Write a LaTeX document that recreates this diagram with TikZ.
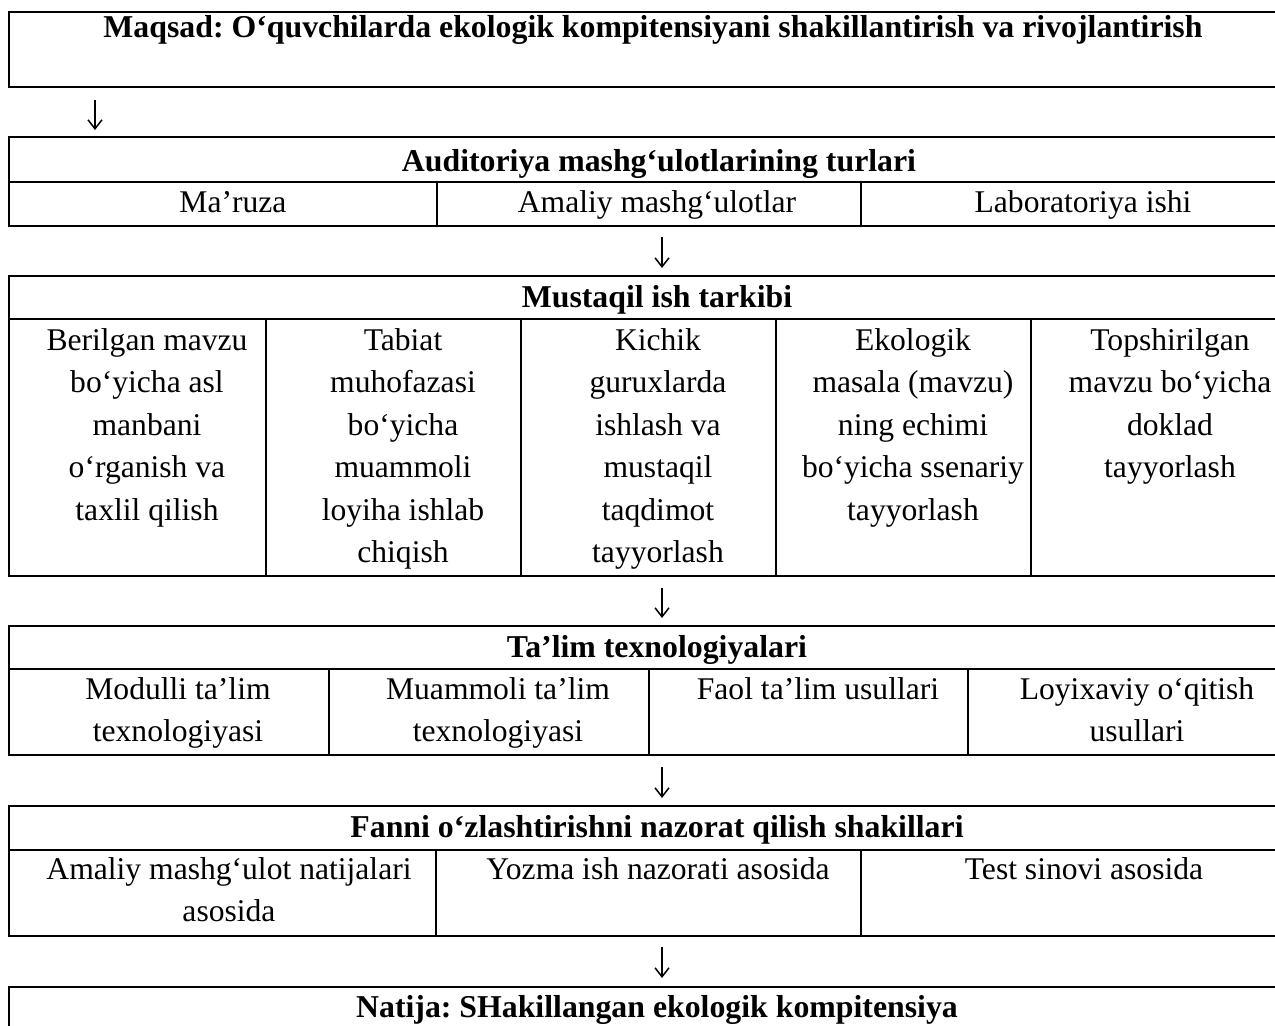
\documentclass[tikz,border=0pt]{standalone}
\usepackage{fontspec}
\setmainfont{Liberation Serif}
\frenchspacing
\usetikzlibrary{arrows.meta}
\newcommand{\cellstrut}{\rule{0pt}{15pt}}
\begin{document}
\begin{tikzpicture}[x=0.5pt,y=-0.5pt,
  frame/.style={draw,line width=1.1pt,inner sep=0pt,outer sep=0pt,minimum width=640.5pt},
  rule/.style={line width=1.1pt},
  head/.style={anchor=base,inner sep=0pt,font=\bfseries\fontsize{15.9}{21.2}\selectfont},
  cell/.style={anchor=north,inner sep=0pt,align=center,font=\fontsize{15.8}{21.2}\selectfont},
  flow/.style={line width=0.75pt,-{Straight Barb[length=4.5pt,width=7pt]}},
]
\useasboundingbox (0,0) rectangle (1275,1025);
% frames
\node[frame,minimum height=37.5pt] (goal) at (649.5,49.5) {};
\node[frame,minimum height=44.5pt] (aud) at (649.5,181.5) {};
\node[frame,minimum height=150pt] (must) at (649.5,426) {};
\node[frame,minimum height=64.5pt] (tal) at (649.5,690.5) {};
\node[frame,minimum height=65pt] (fan) at (649.5,871) {};
\node[frame,minimum height=29pt] (nat) at (649.5,1016) {};
% inner rules
\draw[rule] (9,182) -- (1290,182);
\draw[rule] (437,182) -- (437,226) (861,182) -- (861,226);
\draw[rule] (9,319) -- (1290,319);
\draw[rule] (266,319) -- (266,576) (521,319) -- (521,576) (776,319) -- (776,576) (1031,319) -- (1031,576);
\draw[rule] (9,669) -- (1290,669);
\draw[rule] (329,669) -- (329,755) (649,669) -- (649,755) (968,669) -- (968,755);
\draw[rule] (9,850) -- (1290,850);
\draw[rule] (436,850) -- (436,936) (861,850) -- (861,936);
% headers
\node[head] (goalt) at (653,37) {Maqsad: O‘quvchilarda ekologik kompitensiyani shakillantirish va rivojlantirish};
\node[head] (audt) at (659,171) {Auditoriya mashg‘ulotlarining turlari};
\node[head] (mustt) at (657,307) {Mustaqil ish tarkibi};
\node[head] (talt) at (657,657) {Ta’lim texnologiyalari};
\node[head] (fant) at (657,837) {Fanni o‘zlashtirishni nazorat qilish shakillari};
\node[head] (natt) at (657,1017) {Natija: SHakillangan ekologik kompitensiya};
% auditoriya cells
\node[cell] (a1) at (233,182) {\cellstrut Ma’ruza};
\node[cell] (a2) at (657,182) {\cellstrut Amaliy mashg‘ulotlar};
\node[cell] (a3) at (1083,182) {\cellstrut Laboratoriya ishi};
% mustaqil cells
\node[cell] (m1) at (147,320) {\cellstrut Berilgan mavzu\\bo‘yicha asl\\manbani\\o‘rganish va\\taxlil qilish};
\node[cell] (m2) at (403,320) {\cellstrut Tabiat\\muhofazasi\\bo‘yicha\\muammoli\\loyiha ishlab\\chiqish};
\node[cell] (m3) at (658,320) {\cellstrut Kichik\\guruxlarda\\ishlash va\\mustaqil\\taqdimot\\tayyorlash};
\node[cell] (m4) at (913,320) {\cellstrut Ekologik\\masala (mavzu)\\ning echimi\\bo‘yicha ssenariy\\tayyorlash};
\node[cell] (m5) at (1170,320) {\cellstrut Topshirilgan\\mavzu bo‘yicha\\doklad\\tayyorlash};
% talim cells
\node[cell] (t1) at (178,669) {\cellstrut Modulli ta’lim\\texnologiyasi};
\node[cell] (t2) at (498,669) {\cellstrut Muammoli ta’lim\\texnologiyasi};
\node[cell] (t3) at (818,669) {\cellstrut Faol ta’lim usullari};
\node[cell] (t4) at (1137,669) {\cellstrut Loyixaviy o‘qitish\\usullari};
% fanni cells
\node[cell] (f1) at (229,849) {\cellstrut Amaliy mashg‘ulot natijalari\\asosida};
\node[cell] (f2) at (658,849) {\cellstrut Yozma ish nazorati asosida};
\node[cell] (f3) at (1084,849) {\cellstrut Test sinovi asosida};
% arrows
\coordinate (ax1) at (95,0);
\coordinate (ax2) at (662,0);
\draw[flow] ([yshift=-6.5pt]goal.south -| ax1) -- ([yshift=3.5pt]aud.north -| ax1);
\draw[flow] ([yshift=-5.5pt]aud.south -| ax2) -- ([yshift=4pt]must.north -| ax2);
\draw[flow] ([yshift=-6pt]must.south -| ax2) -- ([yshift=4pt]tal.north -| ax2);
\draw[flow] ([yshift=-6pt]tal.south -| ax2) -- ([yshift=4pt]fan.north -| ax2);
\draw[flow] ([yshift=-5.5pt]fan.south -| ax2) -- ([yshift=4.5pt]nat.north -| ax2);
\end{tikzpicture}
\end{document}
